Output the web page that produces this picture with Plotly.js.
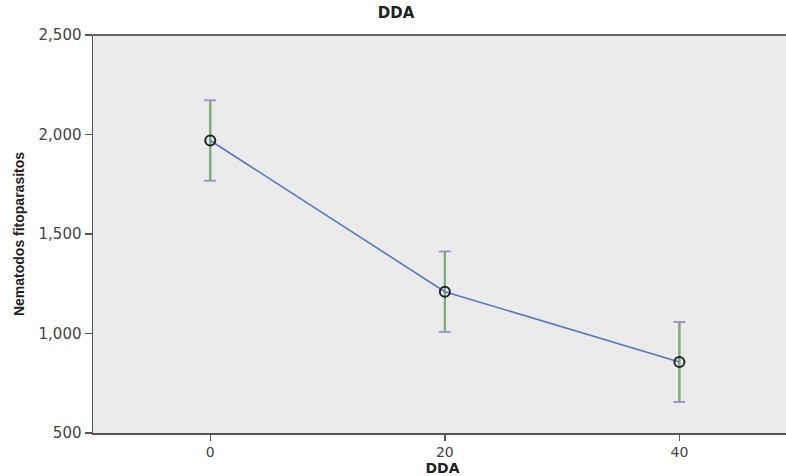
<!DOCTYPE html>
<html><head><meta charset="utf-8">
<script src="https://cdn.plot.ly/plotly-3.0.1.min.js"></script>
<style>html,body{margin:0;padding:0;background:#fff;overflow:hidden}#c{width:786px;height:476px;overflow:hidden}</style>
</head><body><div id="c"></div>
<script>
const dda = [0, 20, 40];
const means = [1970, 1210, 857];
const errs = [202, 202, 201];
const yTicks = [500, 1000, 1500, 2000, 2500];

const capTrace = {
  x: dda, y: means, type: 'scatter', mode: 'none', showlegend: false, hoverinfo: 'skip',
  error_y: {type: 'data', array: errs, visible: true, color: '#ad8fd8', thickness: 2, width: 6}
};
const stemTrace = {
  x: dda, y: means, type: 'scatter', mode: 'none', showlegend: false, hoverinfo: 'skip',
  error_y: {type: 'data', array: errs, visible: true, color: '#72b066', thickness: 2, width: 0}
};
const lineTrace = {
  x: dda, y: means, type: 'scatter', mode: 'lines+markers', showlegend: false,
  line: {color: '#5079c6', width: 1.6},
  marker: {symbol: 'circle-open', size: 10, color: '#222', line: {width: 2, color: '#222'}}
};

const layout = {
  width: 792, height: 476,
  margin: {l: 93, r: 0, t: 35, b: 43},
  paper_bgcolor: '#ffffff', plot_bgcolor: '#ebebeb',
  font: {family: 'DejaVu Sans, sans-serif', size: 13, color: '#333'},
  title: {text: '<b>DDA</b>', x: 411, xanchor: 'center', xref: 'container', y: 0.974, yanchor: 'middle', yref: 'container',
          font: {size: 15, color: '#222', family: 'DejaVu Sans, sans-serif'}},
  xaxis: {range: [-10, 49.6], tickvals: dda, ticktext: dda.map(String), showgrid: false, zeroline: false,
          showline: true, linecolor: '#555', linewidth: 1.5,
          ticks: 'outside', ticklen: 6, tickcolor: '#555', tickwidth: 1.5,
          tickfont: {size: 14, color: '#444'},
          title: {text: '<b>DDA</b>', standoff: 2, font: {size: 14, color: '#222'}}},
  yaxis: {range: [500, 2500], tickvals: yTicks, tickformat: ',', showgrid: false, zeroline: false,
          showline: true, linecolor: '#555', linewidth: 1.5,
          ticks: 'outside', ticklen: 7, tickcolor: '#555', tickwidth: 1.5,
          tickfont: {size: 15, color: '#444'},
          title: {text: '<b>Nematodos fitoparasitos</b>', standoff: 10,
                  font: {size: 14, color: '#222', family: 'Liberation Sans, Arial, sans-serif'}}},
  shapes: [{type: 'line', xref: 'paper', yref: 'paper', x0: 0, x1: 1, y0: 1, y1: 1,
            line: {color: '#666', width: 2}}]
};

Plotly.newPlot('c', [capTrace, stemTrace, lineTrace], layout, {displayModeBar: false, staticPlot: true});
</script></body></html>
